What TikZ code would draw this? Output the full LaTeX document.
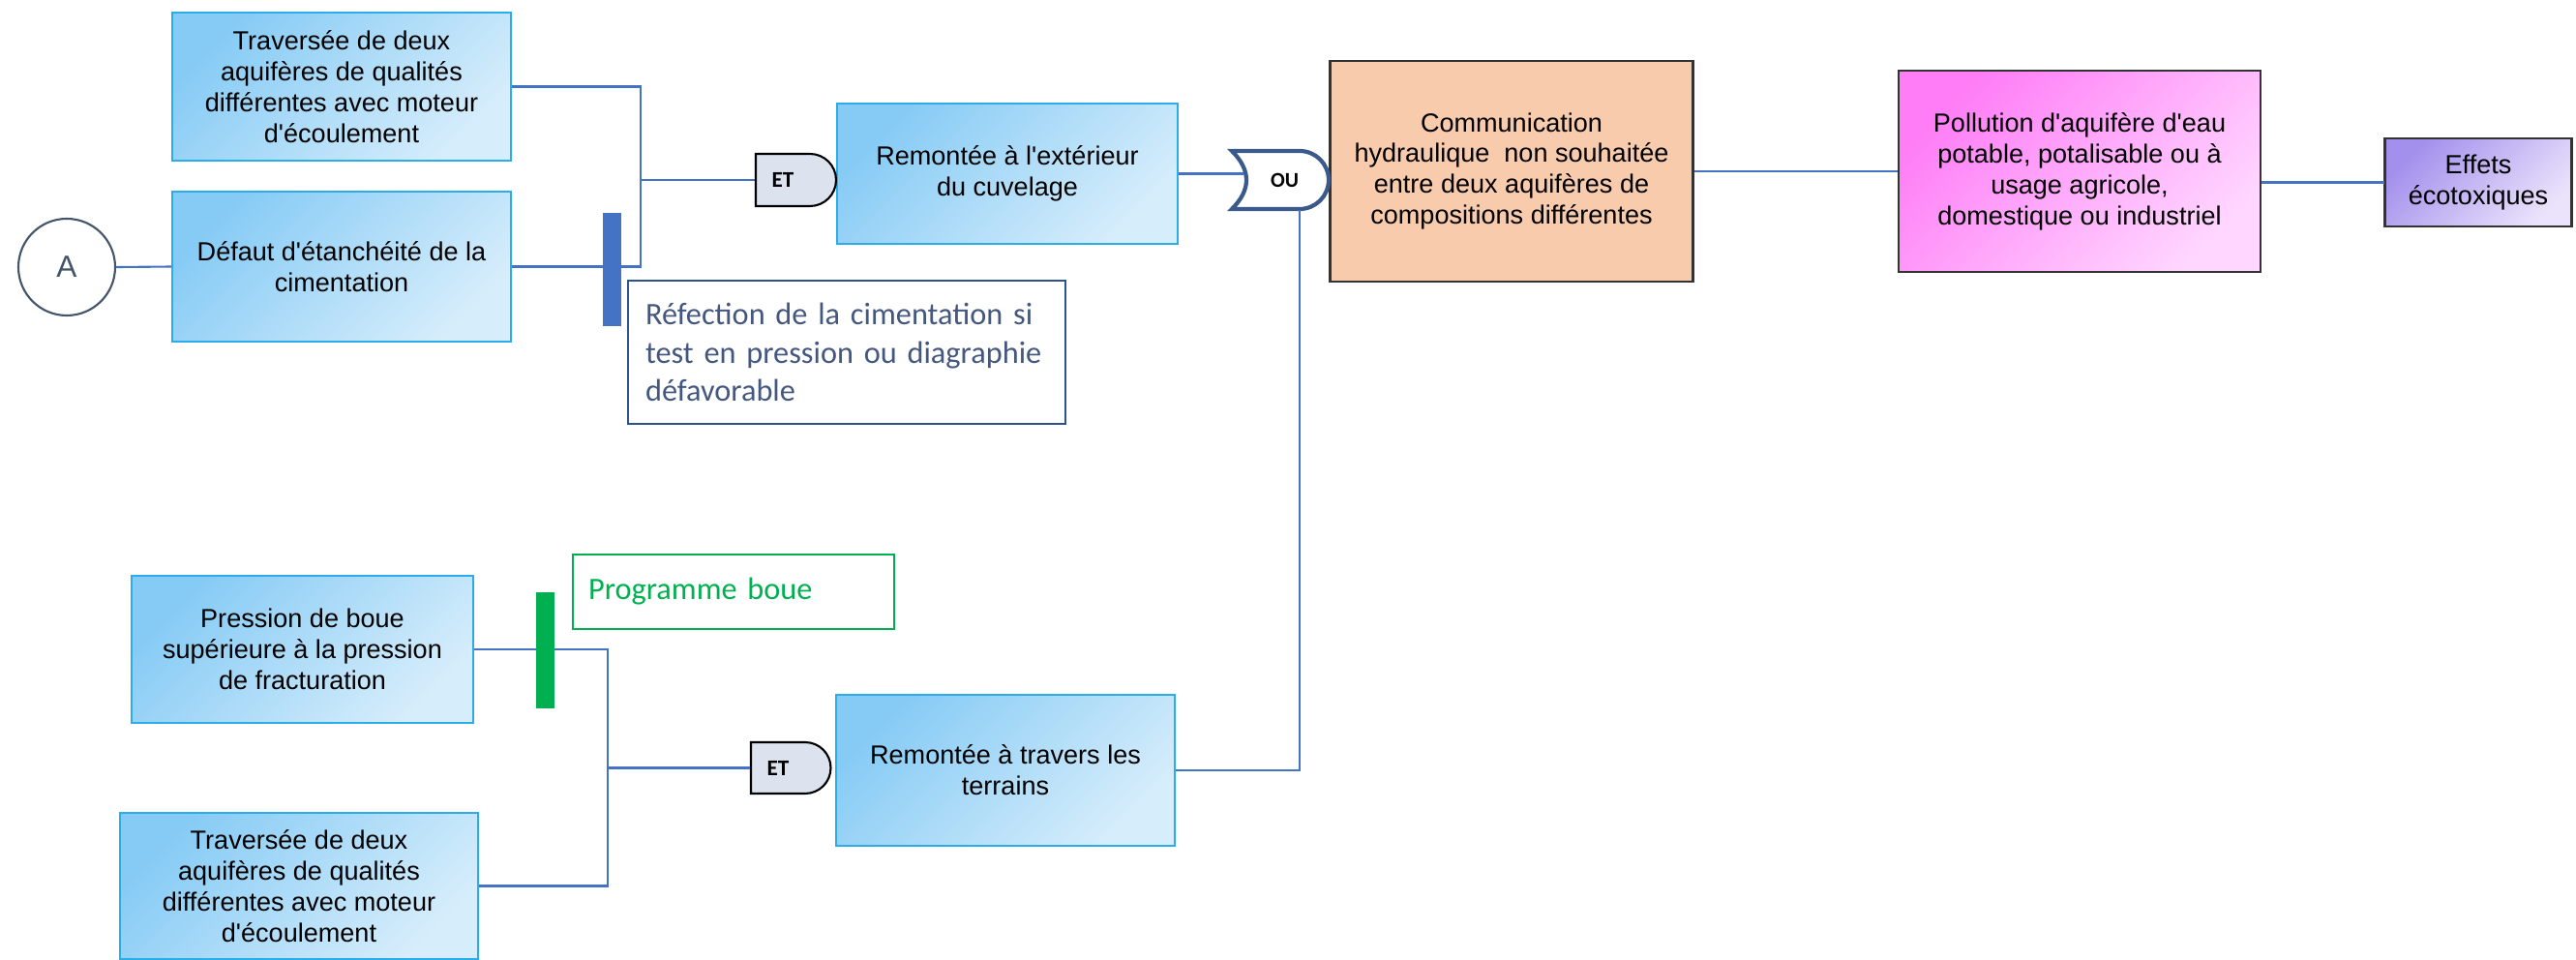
\documentclass[tikz,border=0pt]{standalone}
\usepackage{fontspec}
\setmainfont{Liberation Sans}[Ligatures=TeXOff]
\newfontfamily\notefont{Carlito}[Ligatures=TeXOff]
\definecolor{evttop}{HTML}{86CBF5}
\definecolor{evtbot}{HTML}{D6EDFB}
\definecolor{evtedge}{HTML}{2AADE8}
\definecolor{linkblue}{HTML}{4472C4}
\definecolor{comfill}{HTML}{F8CBAD}
\definecolor{poltop}{HTML}{FF7DF6}
\definecolor{polbot}{HTML}{FFD6FF}
\definecolor{efftop}{HTML}{A290EC}
\definecolor{effbot}{HTML}{EBE3FC}
\definecolor{gatefill}{HTML}{DCE3EF}
\definecolor{ouedge}{HTML}{3A5A8C}
\definecolor{barblue}{HTML}{4472C4}
\definecolor{bargreen}{HTML}{00B050}
\definecolor{noteblue}{HTML}{2F528F}
\definecolor{notetext}{HTML}{44577F}
\definecolor{slate}{HTML}{44546A}

\begin{document}
\begin{tikzpicture}[scale=0.1]
	\tikzstyle{every node}+=[inner sep=0pt, font=\fontsize{7.7}{9.1}\selectfont]
	\tikzstyle{evt}=[draw=evtedge, line width=0.6pt, top color=evttop, bottom color=evtbot, shading angle=45, align=center, minimum width=3.5cm]
	\tikzstyle{topevt}=[draw=black!80, line width=0.6pt, align=center]
	\tikzstyle{link}=[draw=linkblue, line width=0.6pt]
	\tikzstyle{gateline}=[draw=black, line width=0.6pt, fill=gatefill]
	\tikzstyle{andgate}=[minimum width=0.56cm, minimum height=0.54cm, font=\notefont\bfseries\fontsize{6.6}{7}\selectfont]
	\tikzstyle{orgate}=[minimum width=0.7cm, minimum height=0.6cm, text width=0.68cm, align=right, font=\notefont\bfseries\fontsize{6.2}{7}\selectfont]
	\tikzstyle{barrier}=[minimum width=0.19cm]
	\tikzstyle{note}=[line width=0.6pt, align=left, anchor=north west, font=\notefont\fontsize{9.2}{11.3}\selectfont]
	\useasboundingbox (0,0) rectangle (266.2,-99.2);
	\node [circle, draw=slate, line width=0.6pt, minimum size=1cm, text=slate, font=\fontsize{9}{10}\selectfont] (a) at (6.9,-27.6) {A};
	\node [evt, minimum height=1.53cm] (trav1) at (35.3,-8.95) {Traversée de deux\\aquifères de qualités\\différentes avec moteur\\d'écoulement};
	\node [evt, minimum height=1.55cm] (defaut) at (35.3,-27.55) {Défaut d'étanchéité de la\\cimentation};
	\node [evt, minimum width=3.52cm, minimum height=1.45cm] (rext) at (104.1,-17.95) {Remontée à l'extérieur\\du cuvelage};
	\node [evt, minimum width=3.53cm, minimum height=1.52cm] (boue) at (31.25,-67.1) {Pression de boue\\supérieure à la pression\\de fracturation};
	\node [evt, minimum width=3.7cm, minimum height=1.51cm] (trav2) at (30.9,-91.55) {Traversée de deux\\aquifères de qualités\\différentes avec moteur\\d'écoulement};
	\node [evt, minimum height=1.56cm] (rter) at (103.9,-79.6) {Remontée à travers les\\terrains};
	\node [topevt, fill=comfill, minimum width=3.75cm, minimum height=2.28cm] (comm) at (156.2,-17.7) {Communication\\hydraulique \ non souhaitée\\entre deux aquifères de\\compositions différentes};
	\node [topevt, top color=poltop, bottom color=polbot, shading angle=45, minimum width=3.74cm, minimum height=2.08cm] (pollu) at (214.9,-17.7) {Pollution d'aquifère d'eau\\potable, potalisable ou à\\usage agricole,\\domestique ou industriel};
	\node [topevt, top color=efftop, bottom color=effbot, shading angle=45, minimum width=1.93cm, minimum height=0.91cm] (effets) at (256.1,-18.85) {Effets\\écotoxiques};
	\draw [gateline] (78.1,-15.9) -- (83.7,-15.9) arc (90:-90:2.7) -- (78.1,-21.3) -- cycle;
	\node [andgate] (et1) at (80.9,-18.6) {ET};
	\draw [gateline] (77.6,-76.7) -- (83.2,-76.7) arc (90:-90:2.65) -- (77.6,-82.0) -- cycle;
	\node [andgate] (et2) at (80.4,-79.35) {ET};
	\draw [draw=ouedge, line width=1.2pt, fill=white] (127.3,-15.6) -- (134.3,-15.6) arc (90:-90:3) -- (127.3,-21.6) .. controls (129.3,-19.6) and (129.3,-17.6) .. (127.3,-15.6) -- cycle;
	\node [orgate] (ou) at (130.8,-18.6) {OU};
	\coordinate (j1) at (66.2,-18.6);
	\coordinate (j2) at (62.8,-79.35);
	\draw [link] (a.east) -- (defaut.west);
	\draw [link] (trav1.east) -| (j1) -- (et1.west);
	\draw [link] (defaut.east) -| (j1);
	\draw [link, shorten >=-1.3mm] (rext.east) -- (rext.east -| ou.west);
	\draw [link] (rter.east) -| ([xshift=-0.6mm]ou.south east);
	\draw [link] (comm.east) -- (pollu.west);
	\draw [link] (pollu.east |- effets.west) -- (effets.west);
	\draw [link] (boue.east) -| (j2) -- (et2.west);
	\draw [link] (trav2.east) -| (j2);
	\node [barrier, fill=barblue, minimum height=1.17cm] (bar1) at (63.25,-27.85) {};
	\node [barrier, fill=bargreen, minimum height=1.2cm] (bar2) at (56.35,-67.2) {};
	\node [note, draw=noteblue, text=notetext, minimum width=4.52cm, minimum height=1.48cm, text width=4.16cm] (refec) at (64.8,-28.9) {Réfection de la cimentation si\\test en pression ou diagraphie\\défavorable};
	\node [note, draw=bargreen, text=bargreen, minimum width=3.32cm, minimum height=0.77cm, text width=3.0cm] (prog) at (59.1,-57.2) {Programme boue};
\end{tikzpicture}
\end{document}
